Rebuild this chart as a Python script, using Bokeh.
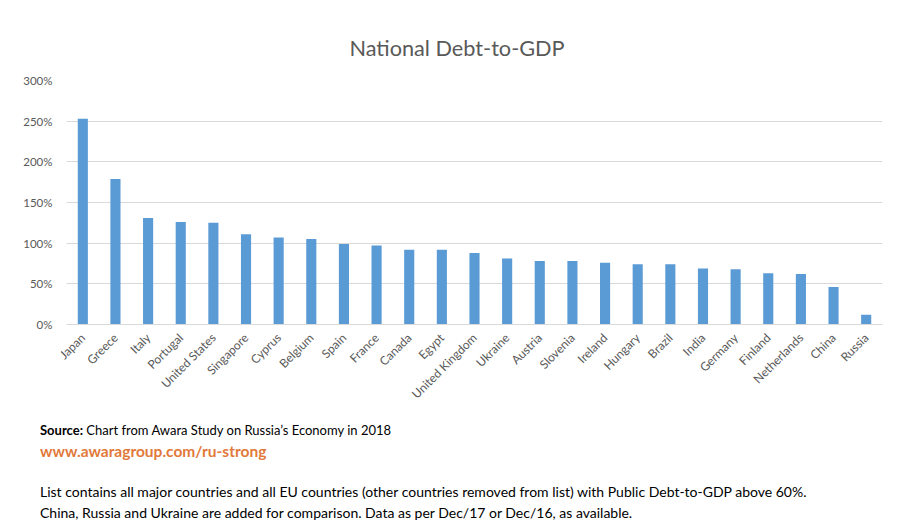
from bokeh.plotting import figure
from bokeh.layouts import column
from bokeh.models import FactorRange, Range1d, PrintfTickFormatter, FixedTicker, ColumnDataSource, Div
from bokeh.embed import file_html
from bokeh.resources import INLINE
import math

countries = ["Japan", "Greece", "Italy", "Portugal", "United States", "Singapore", "Cyprus",
             "Belgium", "Spain", "France", "Canada", "Egypt", "United Kingdom", "Ukraine",
             "Austria", "Slovenia", "Ireland", "Hungary", "Brazil", "India", "Germany",
             "Finland", "Netherlands", "China", "Russia"]
debt_pct = [253, 179, 131, 126, 125, 111, 107, 105, 99, 97, 92, 92, 88, 81,
            78, 78, 76, 74, 74, 69, 68, 63, 62, 46, 12]
y_ticks = [0, 50, 100, 150, 200, 250, 300]

title_text = "National Debt-to-GDP"
source_label = "Source:"
source_text = "Chart from Awara Study on Russia\u2019s Economy in 2018"
link_text = "www.awaragroup.com/ru-strong"
note_1 = "List contains all major countries and all EU countries (other countries removed from list) with Public Debt-to-GDP above 60%."
note_2 = "China, Russia and Ukraine are added for comparison. Data as per Dec/17 or Dec/16, as available."

TXT = "#595959"
FONT = "Lato"

# header with title
head = Div(
    text=(
        '<div style="position:relative;width:920px;height:60px;margin:0;padding:0;">'
        f'<span style="position:absolute;left:0;width:914px;top:34px;text-align:center;'
        f'font-family:{FONT};font-size:21.7px;line-height:28px;color:{TXT};white-space:nowrap;">{title_text}</span>'
        '</div>'
    ),
    width=920, height=60, margin=0,
)

# main chart
src = ColumnDataSource(dict(country=countries, debt=debt_pct))
p = figure(width=920, height=350, output_backend="svg", toolbar_location=None,
           x_range=FactorRange(factors=countries, range_padding=0),
           y_range=Range1d(0, 300),
           min_border_left=66, min_border_right=38, min_border_top=20, min_border_bottom=86)
p.outline_line_color = None

p.vbar(x="country", top="debt", width=0.31, source=src, color="#5B9BD5", line_color=None)

p.xgrid.grid_line_color = None
p.ygrid.grid_line_color = "#d9d9d9"
p.yaxis.ticker = FixedTicker(ticks=y_ticks)
p.yaxis.formatter = PrintfTickFormatter(format="%d%%")
p.yaxis.axis_line_color = None
p.yaxis.major_tick_line_color = None
p.yaxis.minor_tick_line_color = None
p.yaxis.major_label_text_color = TXT
p.yaxis.major_label_text_font = FONT
p.yaxis.major_label_text_font_size = "11.5px"
p.yaxis.major_label_standoff = 8

p.xaxis.axis_line_color = "#d9d9d9"
p.xaxis.major_tick_line_color = None
p.xaxis.minor_tick_line_color = None
p.xaxis.major_label_orientation = math.pi / 4
p.xaxis.major_label_text_color = TXT
p.xaxis.major_label_text_font = FONT
p.xaxis.major_label_text_font_size = "12px"
p.xaxis.major_label_standoff = 5


def line(top, html, size, extra=""):
    return (f'<span style="position:absolute;left:40px;top:{top}px;font-family:{FONT};'
            f'font-size:{size}px;line-height:20px;color:#000;white-space:nowrap;{extra}">{html}</span>')


foot = Div(
    text=(
        '<div style="position:relative;width:920px;height:118px;margin:0;padding:0;">'
        + line(10, f'<b>{source_label}</b> {source_text}', 13)
        + line(31, link_text, 15.5, "font-weight:bold;color:#E2793A;")
        + line(72, note_1, 14)
        + line(93, note_2, 14)
        + '</div>'
    ),
    width=920, height=118, margin=0,
)

layout = column(head, p, foot, spacing=0)
open("out.html", "w").write(file_html(layout, INLINE))
